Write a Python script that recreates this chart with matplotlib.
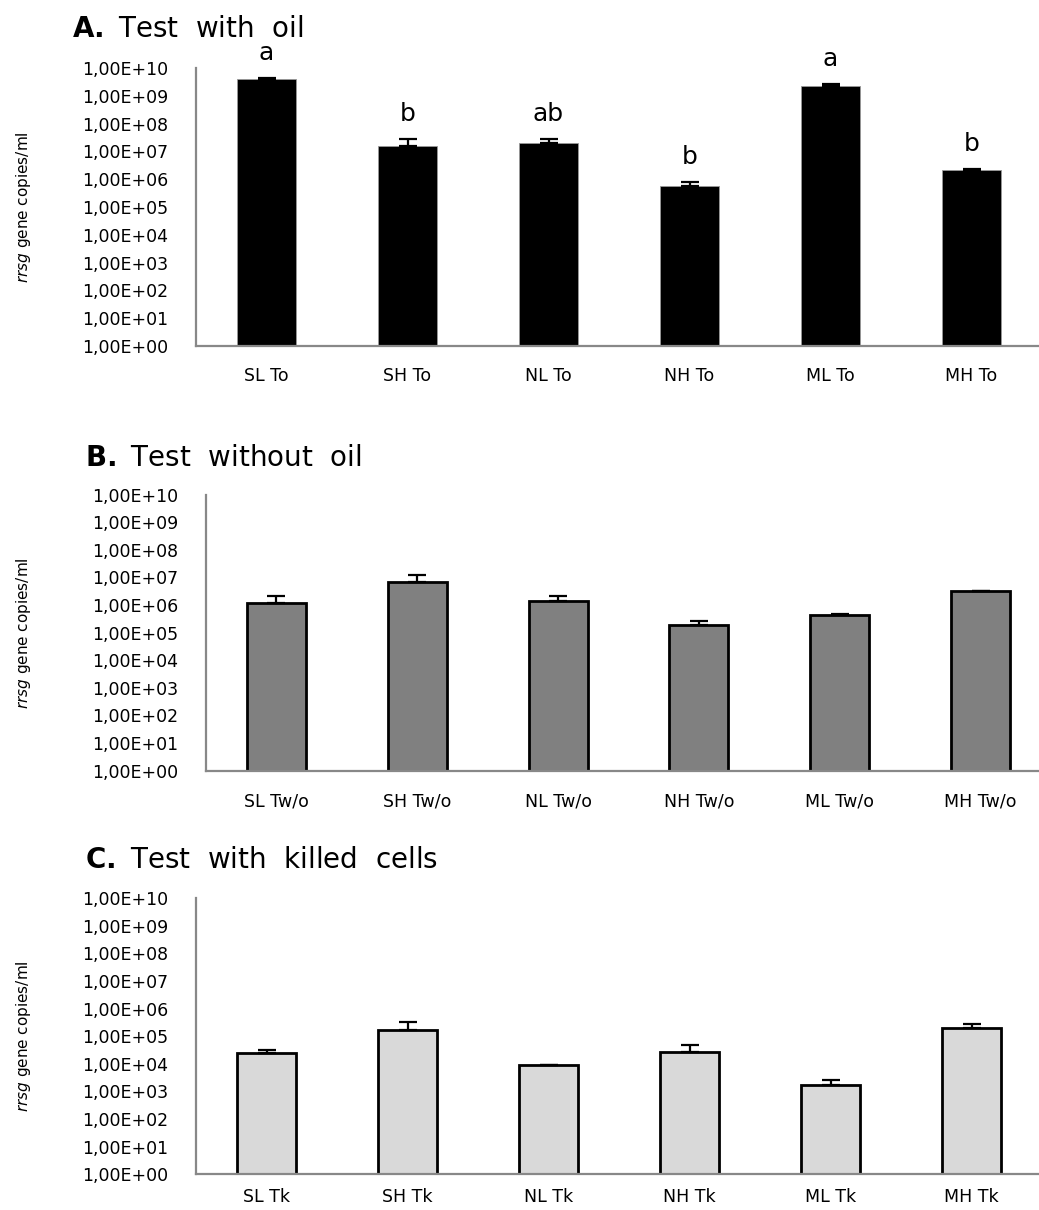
import numpy as np
import matplotlib
matplotlib.use("Agg")
import matplotlib.pyplot as plt

plt.rcParams['font.family'] = ['DejaVu Sans']

# Panel A: test with oil
cats_a = ["SL To", "SH To", "NL To", "NH To", "ML To", "MH To"]
vals_a = [3.9e9, 1.6e7, 1.95e7, 5.7e5, 2.25e9, 2.14e6]
err_a = [0.6e9, 1.1e7, 0.75e7, 2.4e5, 0.3e9, 0.25e6]
letters_a = ["a", "b", "ab", "b", "a", "b"]

# Panel B: test without oil
cats_b = ["SL Tw/o", "SH Tw/o", "NL Tw/o", "NH Tw/o", "ML Tw/o", "MH Tw/o"]
vals_b = [1.17e6, 6.9e6, 1.44e6, 1.9e5, 4.5e5, 3.3e6]
err_b = [0.95e6, 5.4e6, 0.7e6, 0.8e5, 0.2e5, 0.0]

# Panel C: test with killed cells
cats_c = ["SL Tk", "SH Tk", "NL Tk", "NH Tk", "ML Tk", "MH Tk"]
vals_c = [2.4e4, 1.74e5, 8.9e3, 2.6e4, 1.67e3, 1.95e5]
err_c = [0.8e4, 1.5e5, 0.3e3, 2.1e4, 1.0e3, 0.9e5]

decade_labels = ["1,00E+%02d" % k for k in range(11)]

W, H = 1039, 1210
fig = plt.figure(figsize=(W / 100, H / 100), dpi=100)


def make_axes(left, bottom, top, right):
    return fig.add_axes([left / W, 1 - bottom / H, (right - left) / W, (bottom - top) / H])


def draw_panel(ax, cats, vals, errs, color, edge, lw, xpad=15):
    x = np.arange(len(cats))
    ax.bar(x, vals, width=0.42, color=color, edgecolor=edge, linewidth=lw, zorder=2)
    lower = np.zeros(len(vals))
    ax.errorbar(x, vals, yerr=[lower, errs], fmt='none', ecolor='black',
                elinewidth=1.6, capsize=6.5, capthick=1.6, zorder=3)
    ax.set_yscale('log')
    ax.set_ylim(1, 1e10)
    ax.set_xlim(-0.5, len(cats) - 0.5)
    ax.set_yticks([10.0 ** k for k in range(11)])
    ax.set_yticklabels(decade_labels)
    ax.yaxis.set_minor_locator(matplotlib.ticker.NullLocator())
    ax.set_xticks(x)
    ax.set_xticklabels(cats)
    ax.tick_params(axis='both', length=0, labelsize=12.5)
    ax.tick_params(axis='y', pad=20)
    ax.tick_params(axis='x', pad=xpad)
    for s in ['top', 'right']:
        ax.spines[s].set_visible(False)
    for s in ['left', 'bottom']:
        ax.spines[s].set_color('#888888')
        ax.spines[s].set_linewidth(1.6)
    ax.set_ylabel(r"$\it{rrsg}$ gene copies/ml", fontsize=11, labelpad=4)
    return x


def panel_title(x, y, letter, text):
    fig.text(x / W, 1 - y / H, r"$\bf{%s.}$ %s" % (letter, text),
             fontsize=20, va='baseline', ha='left')


# Panel A
ax_a = make_axes(196, 346, 68, 1042)
xa = draw_panel(ax_a, cats_a, vals_a, err_a, 'black', '#999999', 0.6)
for xi, v, e, t in zip(xa, vals_a, err_a, letters_a):
    ax_a.annotate(t, (xi, v + e), xytext=(0, 18), textcoords='offset points',
                  ha='center', va='center', fontsize=18)
ax_a.yaxis.set_label_coords((33 - 196) / 846, 0.5)
panel_title(72, 37, "A", "Test  with  oil")

# Panel B
ax_b = make_axes(206, 770.7, 494.7, 1051)
draw_panel(ax_b, cats_b, vals_b, err_b, '#808080', 'black', 2.0, xpad=16)
ax_b.yaxis.set_label_coords((33 - 206) / 845, 0.5)
panel_title(85, 466, "B", "Test  without  oil")

# Panel C
ax_c = make_axes(196, 1174.3, 898.3, 1042)
draw_panel(ax_c, cats_c, vals_c, err_c, '#d9d9d9', 'black', 2.0, xpad=10)
ax_c.yaxis.set_label_coords((33 - 196) / 846, 0.5)
panel_title(85, 868, "C", "Test  with  killed  cells")

fig.savefig("out.png", dpi=100, facecolor='white')
